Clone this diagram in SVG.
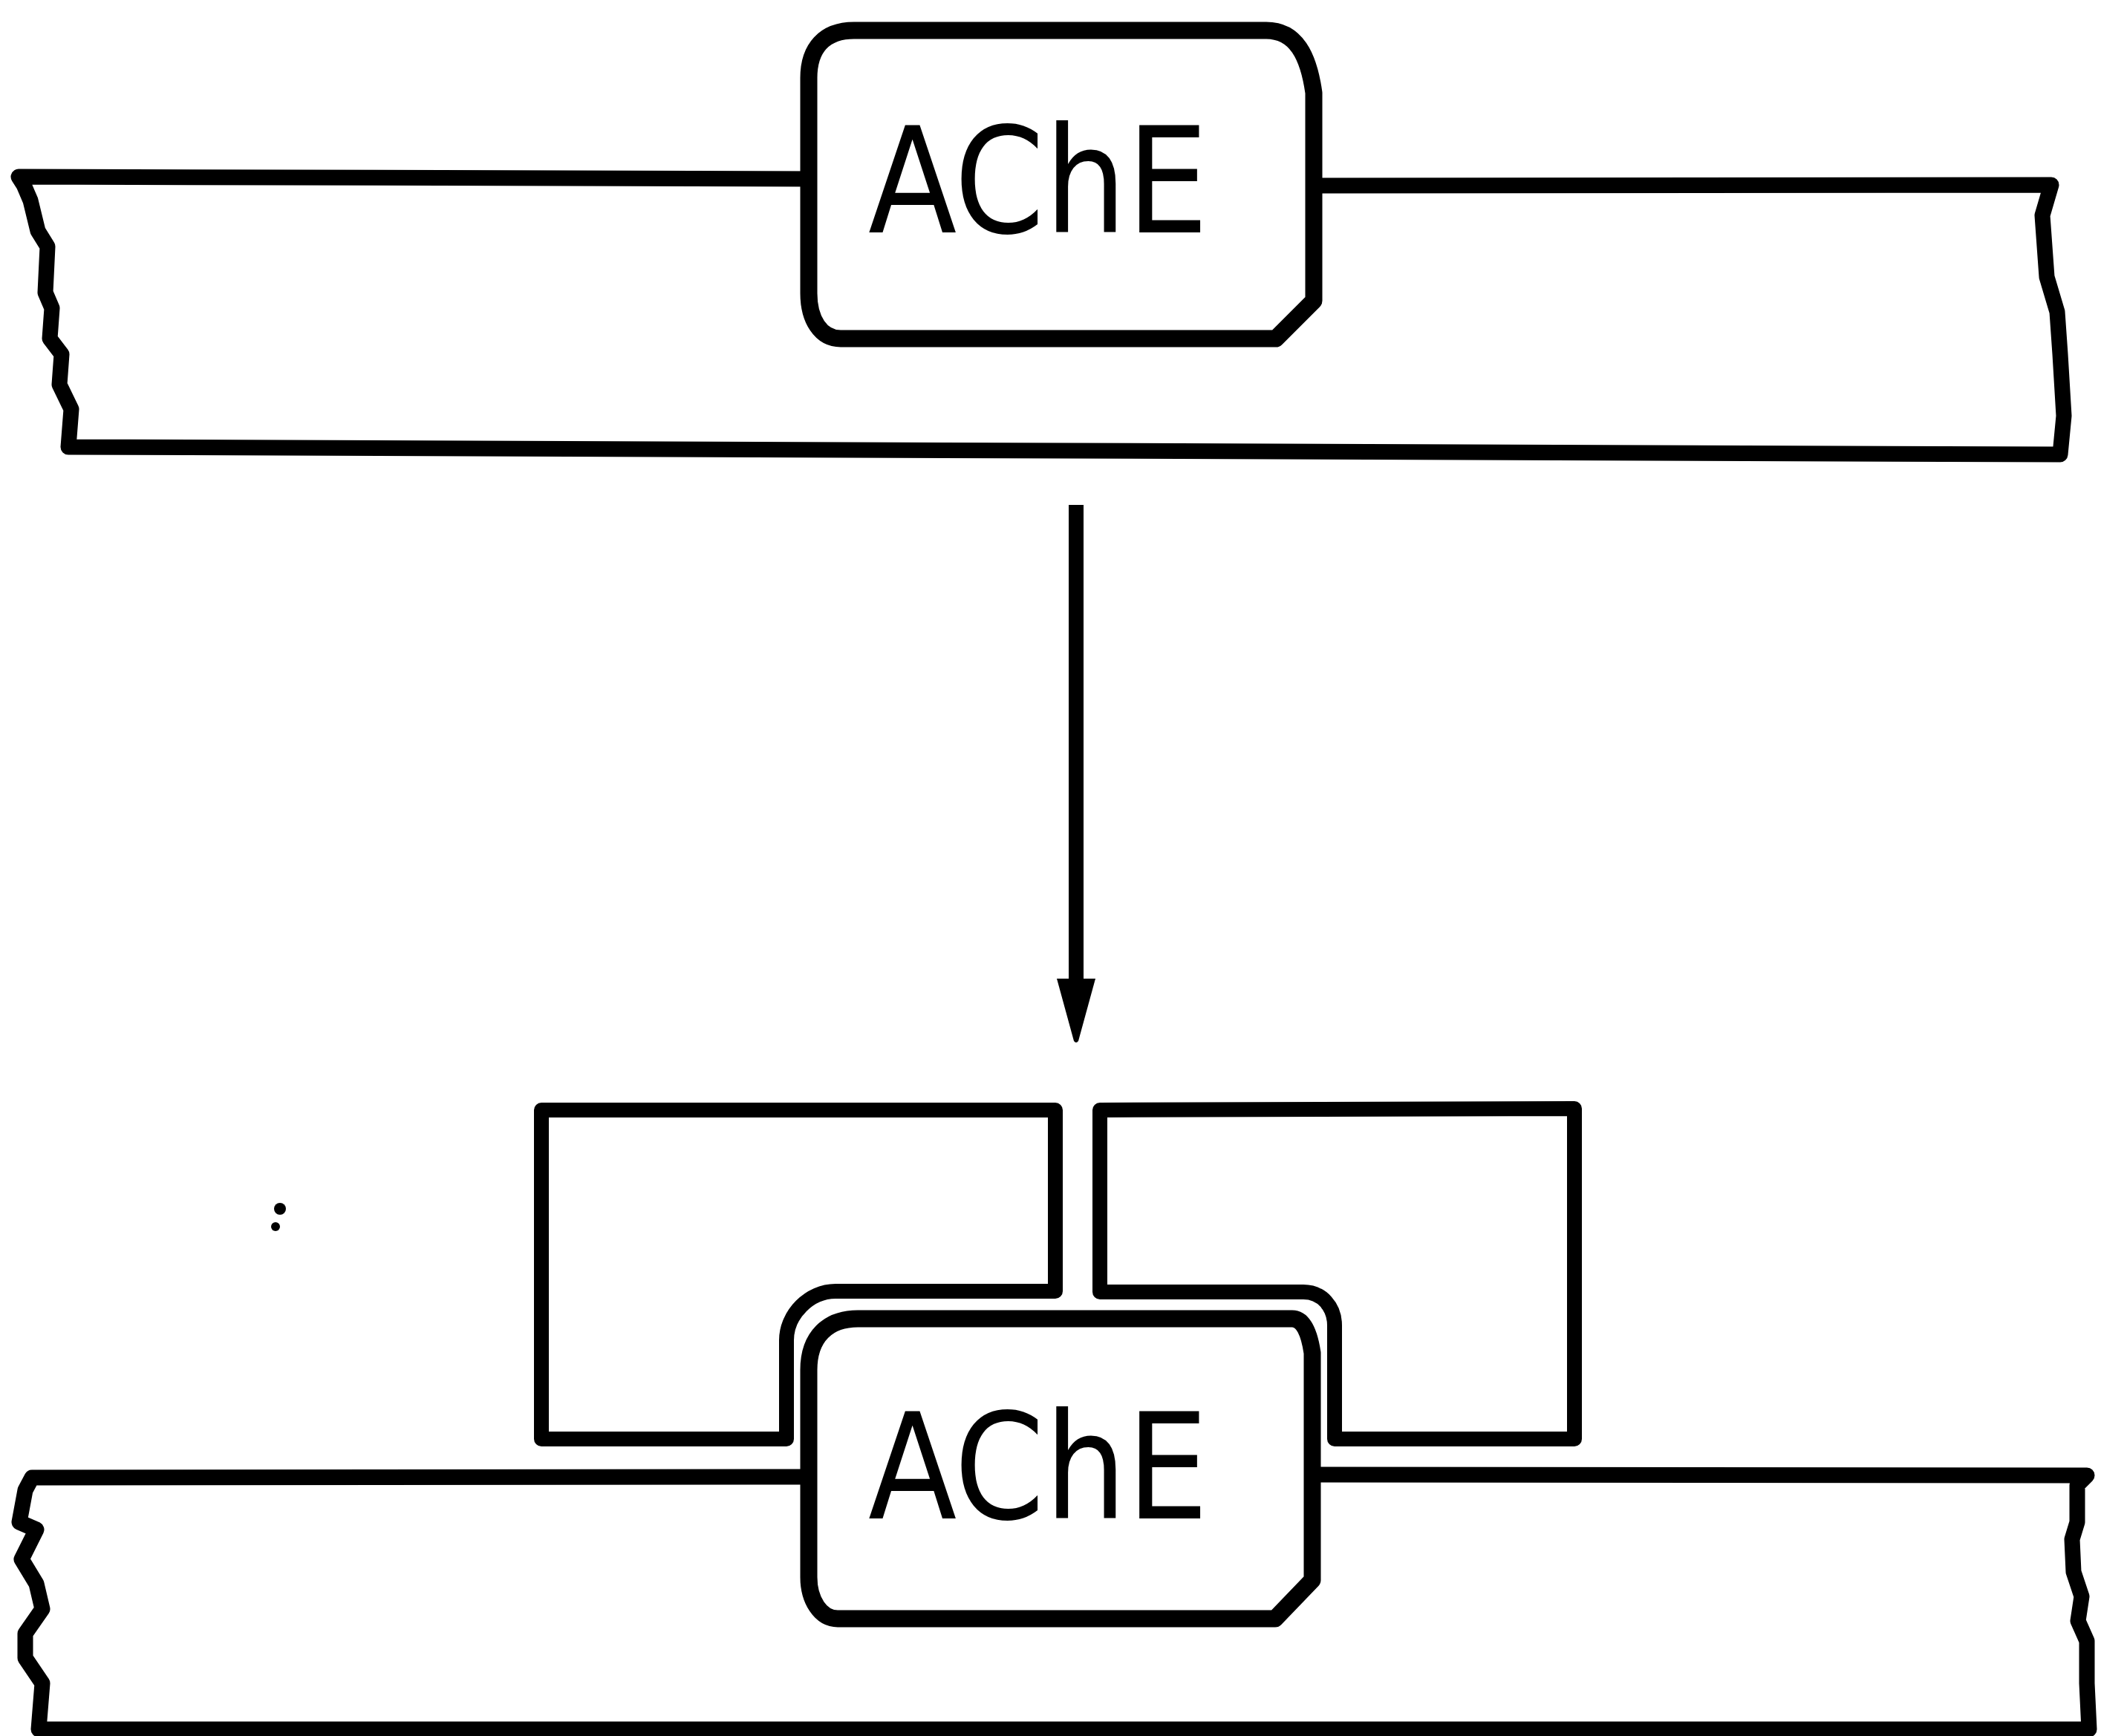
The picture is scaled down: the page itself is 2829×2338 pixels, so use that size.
<svg xmlns="http://www.w3.org/2000/svg" width="2829" height="2338" viewBox="0 0 2829 2338">
<style>
.slab{fill:#fff;stroke:#000;stroke-width:21;stroke-linejoin:round}
.blk{fill:#fff;stroke:#000;stroke-width:20;stroke-linejoin:round}
.box{fill:#fff;stroke:#000;stroke-width:23;stroke-linejoin:round}
.lbl{font-family:'DejaVu Sans Condensed','DejaVu Sans',sans-serif;font-size:198px;fill:#000}
.conn{stroke:#000;stroke-width:20;fill:none}
</style>
<defs>
<marker id="ah" markerUnits="userSpaceOnUse" markerWidth="90" markerHeight="56" refX="0" refY="0" orient="auto" overflow="visible">
<path d="M0,-26 L84,-3 Q88,0 84,3 L0,26 Z" fill="#000"/>
</marker>
</defs>
<rect width="2829" height="2338" fill="#fff"/>
<g id="membrane-top">
<path class="slab" d="M25,238 L1100,241 L1760,250 L2762,249 L2750,290 L2756,373 L2770,420 L2774,477 L2779,560 L2774,612 L92,602 L96,551 L80,518 L83,477 L67,456 L70,415 L61,394 L64,332 L51,311 L41,270 L32,249 Z"/>
</g>
<g id="ache-top">
<path class="box" d="M1089,105 C1089,65 1110,41 1150,41 L1705,41 C1745,41 1762,75 1769,125 L1769,405 L1718,456 L1132,456 C1105,456 1089,430 1089,395 Z"/>
<text class="lbl" x="1169" y="313" textLength="458" lengthAdjust="spacingAndGlyphs">AChE</text>
</g>
<g id="connectors">
<line class="conn" x1="1449" y1="680" x2="1449" y2="1318" marker-end="url(#ah)"/>
</g>
<g id="membrane-bottom">
<path class="slab" d="M43,1990 L1100,1989 L1760,1986 L2810,1987 L2797,2000 L2797,2050 L2790,2073 L2792,2117 L2803,2150 L2798,2183 L2810,2210 L2810,2267 L2813,2329 L52,2329 L57,2267 L34,2233 L34,2200 L57,2167 L49,2133 L29,2100 L49,2060 L26,2050 L34,2007 Z"/>
</g>
<g id="block-left">
<path class="blk" d="M729,1495 L1421,1495 L1421,1739 L1125,1739 C1090,1739 1059,1770 1059,1805 L1059,1938 L729,1938 Z"/>
</g>
<g id="block-right">
<path class="blk" d="M1481,1495 L2120,1493 L2120,1938 L1797,1938 L1797,1785 C1797,1760 1780,1740 1755,1740 L1481,1740 Z"/>
</g>
<g id="ache-bottom">
<path class="box" d="M1089,1845 C1089,1800 1115,1776 1155,1776 L1740,1776 C1755,1776 1763,1795 1767,1822 L1767,2128 L1717,2180 L1128,2180 C1105,2180 1089,2155 1089,2124 Z"/>
<text class="lbl" x="1169" y="2045" textLength="458" lengthAdjust="spacingAndGlyphs">AChE</text>
</g>
<g id="speck">
<circle cx="377" cy="1628" r="8" fill="#000"/>
<circle cx="371" cy="1652" r="6" fill="#000"/>
</g>
</svg>
